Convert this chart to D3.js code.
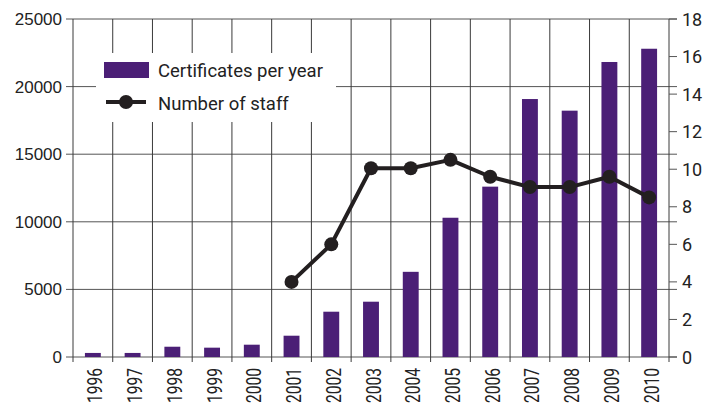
<!DOCTYPE html>
<html>
<head>
<meta charset="utf-8">
<script src="https://cdn.jsdelivr.net/npm/d3@7"></script>
<style>
body { margin: 0; background: #fff; }
</style>
</head>
<body>
<div class="chart"></div>
<script>
// data
var years = ["1996","1997","1998","1999","2000","2001","2002","2003","2004","2005","2006","2007","2008","2009","2010"];
var certificates = [300, 300, 760, 690, 910, 1575, 3350, 4090, 6300, 10300, 12600, 19080, 18220, 21820, 22800];
var staffYears = ["2001","2002","2003","2004","2005","2006","2007","2008","2009","2010"];
var staff = [4, 6, 10.05, 10.05, 10.5, 9.6, 9.05, 9.05, 9.6, 8.5];
var leftTicks = [0, 5000, 10000, 15000, 20000, 25000];
var rightTicks = [0, 2, 4, 6, 8, 10, 12, 14, 16, 18];

function wrapper(){

var w = 705, h = 405;
var left = 73, right = 669, top = 19, bottom = 357;

var svg = d3.select("div.chart")
            .append("svg")
            .attr("width", w)
            .attr("height", h);

//scales
var x = d3.scaleBand()
          .domain(years)
          .range([left, right])
          .paddingInner(0.6)
          .paddingOuter(0.3);

var yL = d3.scaleLinear().domain([0, 25000]).range([bottom, top]);
var yR = d3.scaleLinear().domain([0, 18]).range([bottom, top]);

var gridColor = "#3a3a3a";

//horizontal grid (left axis ticks)
svg.selectAll(".hgrid")
   .data(leftTicks)
   .enter()
   .append("line")
     .attr("x1", left - 7)
     .attr("x2", right + 8)
     .attr("y1", d => yL(d))
     .attr("y2", d => yL(d))
     .attr("stroke", "#555")
     .attr("stroke-width", 1);

//vertical grid between categories
var bounds = d3.range(years.length + 1).map(i => left + i * (right - left) / years.length);
svg.selectAll(".vgrid")
   .data(bounds)
   .enter()
   .append("line")
     .attr("x1", d => d)
     .attr("x2", d => d)
     .attr("y1", top)
     .attr("y2", bottom + 5)
     .attr("stroke", gridColor)
     .attr("stroke-width", 1);

//right axis ticks
svg.selectAll(".rtick")
   .data(rightTicks)
   .enter()
   .append("line")
     .attr("x1", right)
     .attr("x2", right + 8)
     .attr("y1", d => yR(d))
     .attr("y2", d => yR(d))
     .attr("stroke", "#555")
     .attr("stroke-width", 1);

//legend background covers the grid
svg.append("rect")
   .attr("x", 96).attr("y", 53)
   .attr("width", 240).attr("height", 69)
   .attr("fill", "#fff");

//bars
svg.selectAll(".bar")
   .data(certificates)
   .enter()
   .append("rect")
     .attr("x", (d, i) => x(years[i]))
     .attr("width", x.bandwidth())
     .attr("y", d => yL(d))
     .attr("height", d => bottom - yL(d))
     .attr("fill", "#4b1f76");

//staff line
var cx = d => x(d) + x.bandwidth() / 2;
var line = d3.line()
             .x((d, i) => cx(staffYears[i]))
             .y(d => yR(d));

svg.append("path")
   .datum(staff)
   .attr("d", line)
   .attr("fill", "none")
   .attr("stroke", "#231f20")
   .attr("stroke-width", 4)
   .attr("stroke-linejoin", "round");

svg.selectAll(".dot")
   .data(staff)
   .enter()
   .append("circle")
     .attr("cx", (d, i) => cx(staffYears[i]))
     .attr("cy", d => yR(d))
     .attr("r", 7)
     .attr("fill", "#231f20");

//left labels
svg.selectAll(".llab")
   .data(leftTicks)
   .enter()
   .append("text")
     .attr("x", 62)
     .attr("y", d => yL(d) + 6)
     .attr("text-anchor", "end")
     .attr("font-family", "Liberation Sans, Arial, sans-serif")
     .attr("font-size", 17)
     .attr("fill", "#222")
     .text(d => d);

//right labels
svg.selectAll(".rlab")
   .data(rightTicks)
   .enter()
   .append("text")
     .attr("x", 682)
     .attr("y", d => yR(d) + 6.5)
     .attr("font-family", "Roboto, sans-serif")
     .attr("font-size", 18)
     .attr("fill", "#222")
     .text(d => d);

//year labels, rotated and squeezed a bit (condensed look)
svg.selectAll(".xlab")
   .data(years)
   .enter()
   .append("text")
     .attr("transform", d => "translate(" + (x(d) + x.bandwidth() / 2 + 9.5) + "," + 368 + ") rotate(-90) scale(0.78,1)")
     .attr("text-anchor", "end")
     .attr("font-family", "Roboto, sans-serif")
     .attr("font-size", 20)
     .attr("fill", "#222")
     .text(d => d);

//legend
svg.append("rect")
   .attr("x", 104).attr("y", 62)
   .attr("width", 45).attr("height", 16)
   .attr("fill", "#4b1f76");

svg.append("line")
   .attr("x1", 106).attr("x2", 146)
   .attr("y1", 102).attr("y2", 102)
   .attr("stroke", "#231f20")
   .attr("stroke-width", 4);

svg.append("circle")
   .attr("cx", 126).attr("cy", 102).attr("r", 7)
   .attr("fill", "#231f20");

svg.append("text")
   .attr("x", 158).attr("y", 77)
   .attr("font-family", "Roboto, sans-serif")
   .attr("font-size", 18.5)
   .attr("fill", "#222")
   .text("Certificates per year");

svg.append("text")
   .attr("x", 158).attr("y", 109.5)
   .attr("font-family", "Roboto, sans-serif")
   .attr("font-size", 18.5)
   .attr("fill", "#222")
   .text("Number of staff");

}
window.onload = wrapper;
</script>
</body>
</html>
